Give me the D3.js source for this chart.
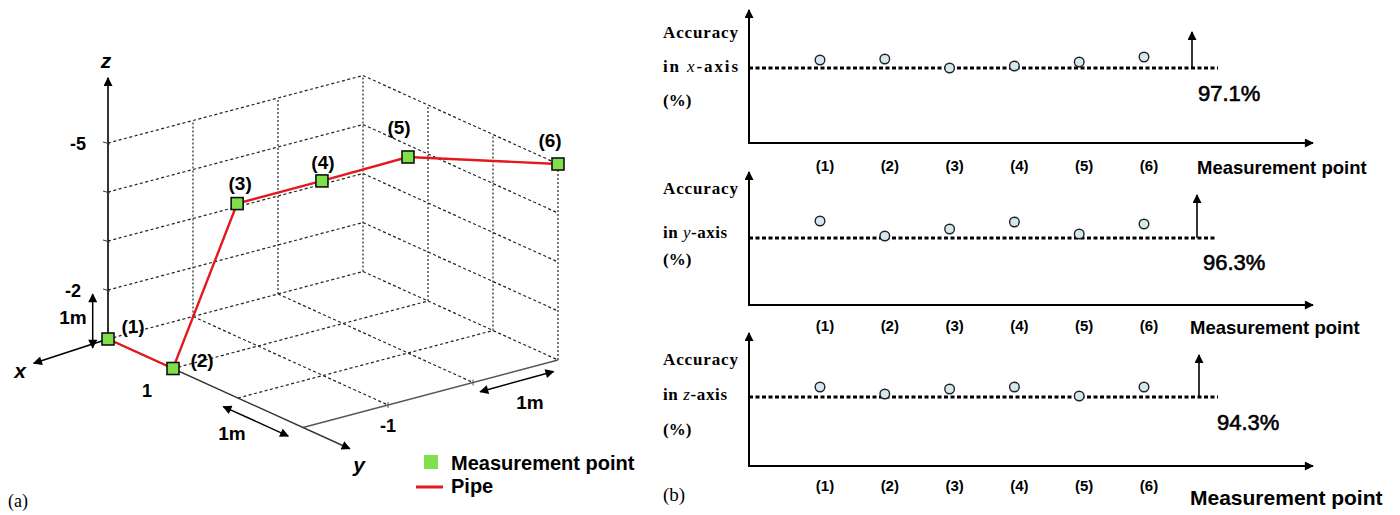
<!DOCTYPE html>
<html>
<head>
<meta charset="utf-8">
<script src="https://cdn.jsdelivr.net/npm/d3@7"></script>
<style>
  body { margin: 0; background: #fff; }
  text { font-family: "Liberation Sans", Arial, sans-serif; }
  text.serif, .serif text { font-family: "Liberation Serif", "Times New Roman", serif; }
</style>
</head>
<body>
<svg id="chart" width="1400" height="515"></svg>
<script>
// ---- data ----
const pointNames = ["(1)", "(2)", "(3)", "(4)", "(5)", "(6)"];
// pipe measurement points in the 3D frame (m)
const pipeX = [0, 0, -0.77, -1.37, -2, -3];
const pipeY = [0, 1, 0.98, 1.5, 2, 3];
const pipeZ = [-1, -1, -4, -4.5, -5, -5];
const zTickValues = [-5, -4, -3, -2];
const zTickLabels = { "-5": "-5", "-2": "-2" };
// accuracy per measurement point (%)
const accuracyX = [97.9, 98.0, 97.1, 97.3, 97.7, 98.2];
const accuracyY = [98.0, 96.5, 97.2, 97.9, 96.7, 97.7];
const accuracyZ = [95.3, 94.6, 95.1, 95.3, 94.4, 95.3];
const minAccuracy = [97.1, 96.3, 94.3];
const axisNames = ["x", "y", "z"];

const svg = d3.select("#chart");

// arrow marker
const defs = svg.append("defs");
defs.append("marker").attr("id", "arrow")
  .attr("viewBox", "0 0 10 10").attr("refX", 9).attr("refY", 5)
  .attr("markerWidth", 10).attr("markerHeight", 9)
  .attr("markerUnits", "userSpaceOnUse")
  .attr("orient", "auto-start-reverse")
  .append("path").attr("d", "M0,0L10,5L0,10z").attr("fill", "#000");

// ================= (a) 3D pipe =================
const left = svg.append("g");
const zScale = d3.scaleLinear().domain([-1, -5]).range([339, 143]);
const xH = d3.scaleLinear().domain([0, -3]).range([0, 255]);
const xV = d3.scaleLinear().domain([0, -3]).range([0, -67.5]);
const yH = d3.scaleLinear().domain([0, 3]).range([0, 195]);
const yV = d3.scaleLinear().domain([0, 3]).range([0, 88.5]);
const ox = 108;
function proj(x, y, z) { return [ox + xH(x) + yH(y), zScale(z) + xV(x) + yV(y)]; }

function seg(g, a, b) {
  const p = proj(...a), q = proj(...b);
  return g.append("line").attr("x1", p[0]).attr("y1", p[1]).attr("x2", q[0]).attr("y2", q[1]);
}

const grid = left.append("g").attr("fill", "none");
const dashH = l => l.attr("stroke", "#222").attr("stroke-width", 1.2).attr("stroke-dasharray", "3,2.5");
const dashV = l => l.attr("stroke", "#222").attr("stroke-width", 1.2).attr("stroke-dasharray", "2,2");
// back wall (y = 0)
[-5, -4, -3, -2, -1].forEach(z => dashH(seg(grid, [0, 0, z], [-3, 0, z])));
[-1, -2, -3].forEach(x => dashV(seg(grid, [x, 0, -1], [x, 0, -5])));
// right wall (x = -3)
[-5, -4, -3, -2, -1].forEach(z => dashH(seg(grid, [-3, 0, z], [-3, 3, z])));
[1, 2, 3].forEach(y => dashV(seg(grid, [-3, y, -1], [-3, y, -5])));
// floor (z = -1)
[-1, -2].forEach(x => dashH(seg(grid, [x, 0, -1], [x, 3, -1])));
[1, 2].forEach(y => dashH(seg(grid, [0, y, -1], [-3, y, -1])));
seg(grid, [0, 3, -1], [-3, 3, -1]).attr("stroke", "#555").attr("stroke-width", 1.3);
[-1, -2].forEach(x => {
  const p = proj(x, 3, -1);
  grid.append("line").attr("x1", p[0]).attr("y1", p[1] - 3).attr("x2", p[0]).attr("y2", p[1] + 3)
    .attr("stroke", "#555");
});

// axes
seg(left, [0, 0, -1], [0, 0, -6.33]).attr("stroke", "#000").attr("stroke-width", 1.6).attr("marker-end", "url(#arrow)");
seg(left, [0, 0, -1], [0.95, 0.1, -1]).attr("stroke", "#000").attr("stroke-width", 1.6).attr("marker-end", "url(#arrow)");
seg(left, [0, 0, -1], [0, 3.72, -1]).attr("stroke", "#333").attr("stroke-width", 1.4).attr("marker-end", "url(#arrow)");
zTickValues.forEach(z => {
  const p = proj(0, 0, z);
  left.append("line").attr("x1", p[0] - 5).attr("y1", p[1] - 1).attr("x2", p[0] + 2).attr("y2", p[1] + 1)
    .attr("stroke", "#333").attr("stroke-width", 1);
  if (zTickLabels[z]) {
    left.append("text").attr("x", z === -5 ? 86 : 81).attr("y", p[1] + 7)
      .attr("text-anchor", "end").attr("font-size", 18).attr("font-weight", "bold").text(zTickLabels[z]);
  }
});
const axLab = (x, y, t) => left.append("text").attr("x", x).attr("y", y).attr("font-size", 21)
  .attr("font-weight", "bold").attr("font-style", "italic").attr("text-anchor", "middle").text(t);
axLab(106, 68, "z"); axLab(20, 378, "x"); axLab(359, 472, "y");
left.append("text").attr("x", 147).attr("y", 397).attr("text-anchor", "middle")
  .attr("font-size", 18).attr("font-weight", "bold").text("1");
left.append("text").attr("x", 388).attr("y", 432).attr("text-anchor", "middle")
  .attr("font-size", 18).attr("font-weight", "bold").text("-1");

// 1 m dimension arrows
const dim = (a, b) => seg(left, a, b).attr("stroke", "#000").attr("stroke-width", 1.5)
  .attr("marker-start", "url(#arrow)").attr("marker-end", "url(#arrow)");
dim([0.18, 0, -2], [0.18, 0, -0.9]);
dim([0.25, 2.1, -1], [0.25, 3.1, -1]);
dim([-1.9, 3.24, -1], [-2.78, 3.22, -1]);
const mLab = (x, y) => left.append("text").attr("x", x).attr("y", y).attr("font-size", 19)
  .attr("font-weight", "bold").attr("text-anchor", "middle").text("1m");
mLab(73, 324); mLab(232, 440); mLab(530, 409);

// pipe
const pipe = pointNames.map((n, i) => proj(pipeX[i], pipeY[i], pipeZ[i]));
left.append("path").attr("d", d3.line()(pipe)).attr("fill", "none")
  .attr("stroke", "#e3191f").attr("stroke-width", 2.4);
left.selectAll("rect.mp").data(pipe).join("rect").attr("class", "mp")
  .attr("x", d => d[0] - 6).attr("y", d => d[1] - 6).attr("width", 12).attr("height", 12)
  .attr("fill", "#7fe04a").attr("stroke", "#111").attr("stroke-width", 1.6);
const labelOffsets = [[25, -6], [29, -2], [3, -14], [1, -12], [-9, -23], [-8, -17]];
left.selectAll("text.pl").data(pipe).join("text").attr("class", "pl")
  .attr("x", (d, i) => d[0] + labelOffsets[i][0]).attr("y", (d, i) => d[1] + labelOffsets[i][1])
  .attr("text-anchor", "middle").attr("font-size", 19).attr("font-weight", "bold")
  .text((d, i) => pointNames[i]);

// legend
left.append("rect").attr("x", 424).attr("y", 455).attr("width", 14).attr("height", 14).attr("fill", "#80e04c");
left.append("text").attr("x", 451).attr("y", 470).attr("font-size", 20).attr("font-weight", "bold").text("Measurement point");
left.append("line").attr("x1", 416).attr("x2", 443).attr("y1", 487).attr("y2", 487)
  .attr("stroke", "#e3191f").attr("stroke-width", 3);
left.append("text").attr("x", 451).attr("y", 493).attr("font-size", 20).attr("font-weight", "bold").text("Pipe");
left.append("text").attr("class", "serif").attr("x", 8).attr("y", 507).attr("font-size", 18).text("(a)");

// ================= (b) accuracy panels =================
const panels = [
  { values: accuracyX, top: 10, axisY: 143, lineY: 68, arrowX: 1192, arrowTip: 32, dotEnd: 1218,
    pctX: 1198, pctY: 101, catY: 171, mpX: 1197, mpY: 174, mpSize: 18.5,
    accY: [38, 72, 106], accW: [75, 75, 30] },
  { values: accuracyY, top: 172, axisY: 305, lineY: 238, arrowX: 1197, arrowTip: 195, dotEnd: 1215,
    pctX: 1203, pctY: 270, catY: 331, mpX: 1190, mpY: 334, mpSize: 18.5,
    accY: [194, 238, 265], accW: [75, 64, 30] },
  { values: accuracyZ, top: 333, axisY: 466, lineY: 397, arrowX: 1199, arrowTip: 355, dotEnd: 1218,
    pctX: 1217, pctY: 430, catY: 491, mpX: 1190, mpY: 505, mpSize: 21,
    accY: [365, 400, 435], accW: [75, 64, 30] }
];
const xPos = d3.scalePoint().domain(pointNames).range([820, 1144]);
const axisLeft = 749, axisRight = 1313;

panels.forEach((p, k) => {
  const g = svg.append("g");
  const thr = minAccuracy[k];
  const yScale = d3.scaleLinear().domain([thr, thr + 1]).range([p.lineY, p.lineY - 10]);

  g.append("line").attr("x1", axisLeft).attr("x2", axisLeft).attr("y1", p.axisY).attr("y2", p.top)
    .attr("stroke", "#000").attr("stroke-width", 2).attr("marker-end", "url(#arrow)");
  g.append("line").attr("x1", axisLeft - 1).attr("x2", axisRight).attr("y1", p.axisY).attr("y2", p.axisY)
    .attr("stroke", "#000").attr("stroke-width", 2).attr("marker-end", "url(#arrow)");

  // minimum accuracy level
  g.append("line").attr("x1", axisLeft).attr("x2", p.dotEnd).attr("y1", yScale(thr)).attr("y2", yScale(thr))
    .attr("stroke", "#000").attr("stroke-width", 3).attr("stroke-dasharray", "4,2.5");
  g.append("line").attr("x1", p.arrowX).attr("x2", p.arrowX).attr("y1", yScale(thr)).attr("y2", p.arrowTip)
    .attr("stroke", "#000").attr("stroke-width", 1.6).attr("marker-end", "url(#arrow)");
  g.append("text").attr("x", p.pctX).attr("y", p.pctY).attr("font-size", 22)
    .attr("stroke", "#000").attr("stroke-width", 0.6).text(thr.toFixed(1) + "%");

  g.selectAll("circle").data(p.values).join("circle")
    .attr("cx", (d, i) => xPos(pointNames[i])).attr("cy", d => yScale(d)).attr("r", 4.8)
    .attr("fill", "#d3e9ee").attr("stroke", "#222").attr("stroke-width", 1.4);

  g.selectAll("text.cat").data(pointNames).join("text").attr("class", "cat")
    .attr("x", d => xPos(d) + 5).attr("y", p.catY).attr("text-anchor", "middle")
    .attr("font-size", 15).attr("font-weight", "bold").text(d => d);
  g.append("text").attr("x", p.mpX).attr("y", p.mpY).attr("font-size", p.mpSize)
    .attr("font-weight", "bold").text("Measurement point");

  const acc = g.append("g").attr("class", "serif").attr("font-weight", "bold").attr("font-size", 17);
  acc.append("text").attr("x", 663).attr("y", p.accY[0]).attr("textLength", p.accW[0])
    .attr("lengthAdjust", "spacing").text("Accuracy");
  const t2 = acc.append("text").attr("x", 663).attr("y", p.accY[1]).attr("textLength", p.accW[1])
    .attr("lengthAdjust", "spacing");
  t2.append("tspan").text("in ");
  t2.append("tspan").attr("font-style", "italic").attr("font-weight", "normal").text(axisNames[k]);
  t2.append("tspan").text("-axis");
  acc.append("text").attr("x", 663).attr("y", p.accY[2]).text("(%)");
});
svg.append("text").attr("class", "serif").attr("x", 663).attr("y", 501).attr("font-size", 19).text("(b)");
</script>
</body>
</html>
